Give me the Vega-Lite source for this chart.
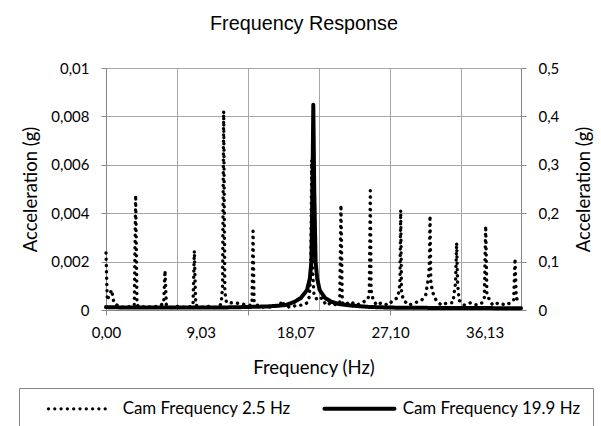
{
  "$schema": "https://vega.github.io/schema/vega-lite/v6.json",
  "width": 415,
  "height": 242,
  "autosize": {"type": "none"},
  "padding": {"left": 106, "top": 68, "right": 80, "bottom": 116},
  "background": "white",
  "config": {
    "view": {"stroke": null},
    "axis": {
      "domainColor": "#868686",
      "tickColor": "#868686",
      "gridColor": "#a6a6a6",
      "labelFont": "Lato",
      "labelFontSize": 15,
      "labelColor": "black",
      "titleFont": "Lato",
      "titleFontSize": 18.5,
      "titleFontWeight": "normal",
      "titleColor": "black",
      "tickSize": 5
    }
  },
  "title": {
    "text": "Frequency Response",
    "font": "Liberation Sans",
    "fontSize": 19.8,
    "fontWeight": "normal",
    "color": "black",
    "anchor": "middle",
    "frame": "group",
    "dx": -9.5,
    "baseline": "alphabetic",
    "offset": 11
  },
  "datasets": {
    "dotted": [
      {"f": 0, "a": 0.00236}, {"f": 0.12, "a": 0.0004}, {"f": 0.3, "a": 0.0006}, {"f": 0.54, "a": 0.00083}, {"f": 0.75, "a": 0.0003},
      {"f": 1.2, "a": 0.00015}, {"f": 1.8, "a": 0.0001}, {"f": 2.4, "a": 0.00015}, {"f": 2.7, "a": 0.0002}, {"f": 2.83, "a": 0.00475},
      {"f": 2.96, "a": 0.0002}, {"f": 3.3, "a": 0.0001}, {"f": 3.9, "a": 0.00015}, {"f": 4.5, "a": 0.0001}, {"f": 5.1, "a": 0.0002},
      {"f": 5.5, "a": 0.00025}, {"f": 5.63, "a": 0.00163}, {"f": 5.76, "a": 0.0002}, {"f": 6.2, "a": 0.0001}, {"f": 6.9, "a": 0.00015},
      {"f": 7.6, "a": 0.0001}, {"f": 8.1, "a": 0.00015}, {"f": 8.3, "a": 0.0002}, {"f": 8.43, "a": 0.00245}, {"f": 8.56, "a": 0.0002},
      {"f": 9.0, "a": 0.0001}, {"f": 9.7, "a": 0.00015}, {"f": 10.4, "a": 0.0001}, {"f": 10.9, "a": 0.0002}, {"f": 11.0, "a": 0.0003},
      {"f": 11.12, "a": 0.00096}, {"f": 11.23, "a": 0.00822}, {"f": 11.34, "a": 0.00076}, {"f": 11.5, "a": 0.0003}, {"f": 11.9, "a": 0.0003},
      {"f": 12.5, "a": 0.00028}, {"f": 13.0, "a": 0.00025}, {"f": 13.5, "a": 0.0002}, {"f": 13.85, "a": 0.0002}, {"f": 13.93, "a": 0.0003},
      {"f": 14.03, "a": 0.00326}, {"f": 14.13, "a": 0.0003}, {"f": 14.6, "a": 0.00015}, {"f": 15.3, "a": 0.0001}, {"f": 16.0, "a": 0.00015},
      {"f": 16.6, "a": 0.0002}, {"f": 16.8, "a": 0.00038}, {"f": 17.0, "a": 0.0002}, {"f": 17.6, "a": 0.0001}, {"f": 18.2, "a": 0.0002},
      {"f": 18.8, "a": 0.0002}, {"f": 19.2, "a": 0.0003}, {"f": 19.4, "a": 0.00055}, {"f": 19.53, "a": 0.0015}, {"f": 19.63, "a": 0.0062},
      {"f": 19.73, "a": 0.0015}, {"f": 19.85, "a": 0.0006}, {"f": 20.2, "a": 0.0004}, {"f": 20.6, "a": 0.0005}, {"f": 21.0, "a": 0.0002},
      {"f": 21.5, "a": 0.0003}, {"f": 22.0, "a": 0.0002}, {"f": 22.3, "a": 0.0003}, {"f": 22.42, "a": 0.00434}, {"f": 22.55, "a": 0.0003},
      {"f": 22.8, "a": 0.0002}, {"f": 23.3, "a": 0.00035}, {"f": 23.9, "a": 0.0002}, {"f": 24.4, "a": 0.0003}, {"f": 24.9, "a": 0.0004},
      {"f": 25.12, "a": 0.0006}, {"f": 25.22, "a": 0.00493}, {"f": 25.3, "a": 0.0008}, {"f": 25.45, "a": 0.0005}, {"f": 25.8, "a": 0.0002},
      {"f": 26.3, "a": 0.0003}, {"f": 26.9, "a": 0.0002}, {"f": 27.4, "a": 0.0004}, {"f": 27.8, "a": 0.0005}, {"f": 27.98, "a": 0.0008},
      {"f": 28.05, "a": 0.0012}, {"f": 28.12, "a": 0.00413}, {"f": 28.2, "a": 0.0007}, {"f": 28.4, "a": 0.0004}, {"f": 28.9, "a": 0.0002},
      {"f": 29.5, "a": 0.0003}, {"f": 30.1, "a": 0.0004}, {"f": 30.5, "a": 0.0006}, {"f": 30.75, "a": 0.0013}, {"f": 30.85, "a": 0.0018},
      {"f": 30.92, "a": 0.0039}, {"f": 31.0, "a": 0.0011}, {"f": 31.2, "a": 0.0007}, {"f": 31.5, "a": 0.0004}, {"f": 32.0, "a": 0.0002},
      {"f": 32.6, "a": 0.0003}, {"f": 33.1, "a": 0.0003}, {"f": 33.35, "a": 0.0011}, {"f": 33.46, "a": 0.00278}, {"f": 33.55, "a": 0.0011},
      {"f": 33.7, "a": 0.0004}, {"f": 34.2, "a": 0.0002}, {"f": 34.8, "a": 0.0003}, {"f": 35.4, "a": 0.0002}, {"f": 35.9, "a": 0.0003},
      {"f": 36.1, "a": 0.0005}, {"f": 36.23, "a": 0.00348}, {"f": 36.35, "a": 0.0006}, {"f": 36.5, "a": 0.0005}, {"f": 36.9, "a": 0.0002},
      {"f": 37.5, "a": 0.0003}, {"f": 38.1, "a": 0.0002}, {"f": 38.6, "a": 0.0003}, {"f": 38.9, "a": 0.0004}, {"f": 39.03, "a": 0.00213},
      {"f": 39.15, "a": 0.0005}, {"f": 39.3, "a": 0.0004}, {"f": 39.6, "a": 0.0003}
    ],
    "solid": [
      {"f": 0, "a": 0.006}, {"f": 1, "a": 0.0055}, {"f": 2.5, "a": 0.005}, {"f": 4, "a": 0.005}, {"f": 6, "a": 0.005},
      {"f": 8, "a": 0.005}, {"f": 10, "a": 0.005}, {"f": 12, "a": 0.0055}, {"f": 14, "a": 0.0065}, {"f": 15.5, "a": 0.0075},
      {"f": 16.5, "a": 0.009}, {"f": 17.2, "a": 0.0105}, {"f": 18.0, "a": 0.017}, {"f": 18.6, "a": 0.025}, {"f": 19.18, "a": 0.041},
      {"f": 19.45, "a": 0.065}, {"f": 19.6, "a": 0.1}, {"f": 19.7, "a": 0.25}, {"f": 19.78, "a": 0.424}, {"f": 19.87, "a": 0.25},
      {"f": 20.0, "a": 0.1}, {"f": 20.15, "a": 0.065}, {"f": 20.39, "a": 0.041}, {"f": 20.9, "a": 0.025}, {"f": 21.5, "a": 0.017},
      {"f": 22.3, "a": 0.012}, {"f": 23.5, "a": 0.009}, {"f": 25, "a": 0.0065}, {"f": 27, "a": 0.005}, {"f": 30, "a": 0.0045},
      {"f": 33, "a": 0.004}, {"f": 36, "a": 0.004}, {"f": 39.6, "a": 0.0035}
    ]
  },
  "encoding": {
    "x": {
      "field": "f",
      "type": "quantitative",
      "scale": {"domain": [0, 39.6], "nice": false, "zero": false},
      "axis": {
        "values": [0, 6.775, 9.033, 13.55, 18.067, 20.325, 27.1, 33.875, 36.133],
        "labelExpr": "indexof([0, 9.033, 18.067, 27.1, 36.133], datum.value) >= 0 ? replace(format(datum.value, '.2f'), '.', ',') : ''",
        "labelFlush": false,
        "labelOverlap": false,
        "labelPadding": 10,
        "grid": true,
        "gridOpacity": {"condition": {"test": "indexof([0, 6.775, 13.55, 20.325, 27.1, 33.875], datum.value) >= 0", "value": 1}, "value": 0},
        "tickOpacity": {"condition": {"test": "indexof([0, 13.55, 27.1], datum.value) >= 0", "value": 1}, "value": 0},
        "title": "Frequency (Hz)",
        "titleX": 207.5,
        "titleY": 57,
        "titleBaseline": "middle"
      }
    }
  },
  "layer": [
    {
      "data": {"name": "dotted"},
      "mark": {"type": "line", "color": "black", "strokeWidth": 3.4, "strokeCap": "round", "strokeJoin": "round"},
      "encoding": {
        "y": {
          "field": "a",
          "type": "quantitative",
          "scale": {"domain": [0, 0.01], "nice": false},
          "axis": {
            "orient": "left",
            "values": [0, 0.002, 0.004, 0.006, 0.008, 0.01],
            "labelExpr": "replace(format(datum.value, '~g'), '.', ',')",
            "grid": true,
            "labelPadding": 12,
            "title": "Acceleration (g)",
            "titleAngle": 270,
            "titleX": -76,
            "titleY": 121,
            "titleBaseline": "middle"
          }
        },
        "strokeDash": {
          "datum": "Cam Frequency 2.5 Hz",
          "type": "nominal",
          "scale": {"domain": ["Cam Frequency 2.5 Hz", "Cam Frequency 19.9 Hz"], "range": [[0.1, 6.2], [1, 0]]},
          "legend": {
            "orient": "none",
            "legendX": -87,
            "legendY": 320,
            "direction": "horizontal",
            "title": null,
            "strokeColor": "#868686",
            "padding": 12,
            "symbolType": "M-10,0H10",
            "symbolSize": 49,
            "symbolStrokeColor": "black",
            "symbolStrokeWidth": 4,
            "symbolOffset": 40,
            "labelOffset": 34.75,
            "labelFont": "Lato",
            "labelFontSize": 16.9,
            "labelColor": "black",
            "labelLimit": 400,
            "columnPadding": 20,
            "labelExpr": "datum.label + '\u2002\u2002'",
            "encode": {
              "symbols": {
                "update": {
                  "strokeWidth": {"signal": "datum.value == 'Cam Frequency 2.5 Hz' ? 3.2 : 4"},
                  "strokeCap": {"value": "round"},
                  "shape": {"signal": "datum.value == 'Cam Frequency 2.5 Hz' ? 'M-8.86,0H8.86' : 'M-10,0H10'"}
                }
              }
            }
          }
        }
      }
    },
    {
      "data": {"name": "solid"},
      "mark": {"type": "line", "color": "black", "strokeWidth": 4, "strokeCap": "round", "strokeJoin": "round"},
      "encoding": {
        "y": {
          "field": "a",
          "type": "quantitative",
          "scale": {"domain": [0, 0.5], "nice": false},
          "axis": {
            "orient": "right",
            "values": [0, 0.1, 0.2, 0.3, 0.4, 0.5],
            "labelExpr": "replace(format(datum.value, '~g'), '.', ',')",
            "grid": false,
            "labelPadding": 12,
            "title": "Acceleration (g)",
            "titleAngle": 270,
            "titleX": 62,
            "titleY": 121,
            "titleBaseline": "middle"
          }
        },
        "strokeDash": {
          "datum": "Cam Frequency 19.9 Hz",
          "type": "nominal",
          "scale": {"domain": ["Cam Frequency 2.5 Hz", "Cam Frequency 19.9 Hz"], "range": [[0.1, 6.2], [1, 0]]},
          "legend": {
            "orient": "none",
            "legendX": -87,
            "legendY": 320,
            "direction": "horizontal",
            "title": null,
            "strokeColor": "#868686",
            "padding": 12,
            "symbolType": "M-10,0H10",
            "symbolSize": 49,
            "symbolStrokeColor": "black",
            "symbolStrokeWidth": 4,
            "symbolOffset": 40,
            "labelOffset": 34.75,
            "labelFont": "Lato",
            "labelFontSize": 16.9,
            "labelColor": "black",
            "labelLimit": 400,
            "columnPadding": 20,
            "labelExpr": "datum.label + '\u2002\u2002'",
            "encode": {
              "symbols": {
                "update": {
                  "strokeWidth": {"signal": "datum.value == 'Cam Frequency 2.5 Hz' ? 3.2 : 4"},
                  "strokeCap": {"value": "round"},
                  "shape": {"signal": "datum.value == 'Cam Frequency 2.5 Hz' ? 'M-8.86,0H8.86' : 'M-10,0H10'"}
                }
              }
            }
          }
        }
      }
    }
  ],
  "resolve": {"scale": {"y": "independent"}}
}
